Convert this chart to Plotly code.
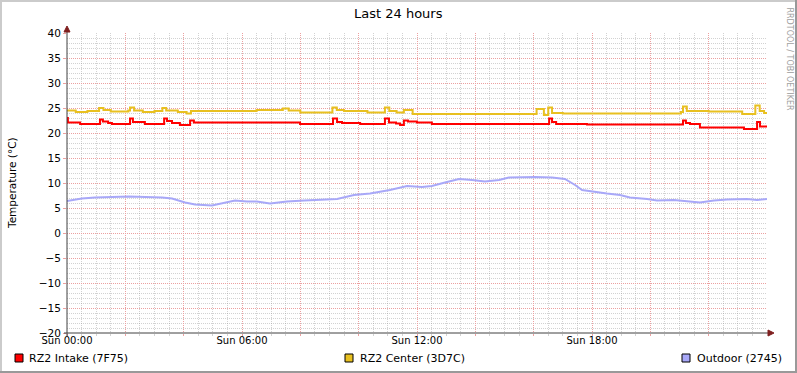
import plotly.graph_objects as go

# ---- data (hours since Sun 00:00, temperature in °C) ----
intake_hours = [0.0, 0.03, 0.45, 1.13, 1.23, 1.41, 1.54, 2.16, 2.26, 2.67, 3.33, 3.43, 3.6, 3.87,
                4.22, 4.35, 7.99, 9.12, 9.26, 9.43, 10.05, 10.9, 11.04, 11.28, 11.42, 11.55,
                11.69, 12.0, 12.51, 16.53, 16.63, 16.77, 17.83, 21.12, 21.22, 21.36, 21.7,
                23.21, 23.66, 23.76, 24.0]
intake_vals = [23.0, 22.1, 21.8, 22.7, 22.3, 22.0, 21.8, 22.9, 22.2, 21.8, 22.9, 22.4, 22.0, 21.6,
               22.5, 22.1, 21.8, 22.9, 22.2, 22.0, 21.8, 22.9, 22.1, 21.9, 21.6, 22.5,
               22.3, 22.1, 21.8, 22.9, 22.2, 21.8, 21.7, 22.5, 22.0, 21.8, 21.1,
               20.8, 22.2, 21.3, 21.3]

center_hours = [0.0, 0.3, 0.7, 1.1, 1.25, 1.5, 2.1, 2.16, 2.3, 2.6, 3.0, 3.27, 3.4, 3.8, 4.1,
                4.25, 6.5, 7.4, 7.6, 8.0, 9.1, 9.25, 9.5, 10.3, 10.9, 11.05, 11.3, 11.55,
                11.85, 16.1, 16.35, 16.5, 16.63, 17.0, 21.05, 21.12, 21.25, 22.0, 23.15,
                23.6, 23.75, 23.9, 24.0]
center_vals = [24.5, 24.2, 24.4, 25.0, 24.6, 24.3, 24.5, 25.1, 24.5, 24.2, 24.4, 25.0, 24.5, 24.2, 23.9,
               24.4, 24.6, 24.9, 24.5, 24.1, 25.1, 24.6, 24.4, 24.1, 25.1, 24.4, 24.1, 24.6,
               23.8, 24.8, 23.6, 25.1, 24.0, 23.9, 24.2, 25.3, 24.4, 24.3, 23.8,
               25.5, 24.4, 24.0, 24.0]

outdoor_hours = [0.0, 0.51, 0.96, 2.13, 3.26, 3.6, 4.05, 4.39, 4.97, 5.31, 5.76, 6.17, 6.51, 6.96,
                 7.54, 8.13, 8.67, 9.26, 9.84, 10.39, 11.07, 11.66, 12.17, 12.51, 12.96, 13.44,
                 13.89, 14.33, 14.81, 15.15, 16.05, 16.63, 17.07, 17.42, 17.66, 18.17, 18.51,
                 18.96, 19.3, 19.89, 20.23, 20.81, 21.26, 21.7, 22.18, 22.63, 23.31, 23.66, 24.0]
outdoor_vals = [6.4, 6.9, 7.1, 7.3, 7.1, 6.9, 6.1, 5.7, 5.5, 5.9, 6.5, 6.3, 6.3, 5.9,
                6.3, 6.5, 6.7, 6.8, 7.6, 7.9, 8.6, 9.4, 9.2, 9.4, 10.1, 10.8,
                10.6, 10.3, 10.6, 11.1, 11.2, 11.1, 10.8, 9.6, 8.6, 8.1, 7.9,
                7.6, 7.1, 6.8, 6.5, 6.6, 6.3, 6.1, 6.5, 6.7, 6.8, 6.6, 6.8]

series_names = ["RZ2 Intake (7F75)", "RZ2 Center (3D7C)", "Outdoor (2745)"]
series_colors = ["#FF0000", "#E8C020", "#A8A8F8"]

x_label_vals = [0, 6, 12, 18]
x_label_text = ["Sun 00:00", "Sun 06:00", "Sun 12:00", "Sun 18:00"]
x_major_vals = [0, 2, 4, 6, 8, 10, 12, 14, 16, 18, 20, 22]
x_minor_vals = [h / 2 for h in range(0, 48) if h % 4 != 0]
y_minor_vals = [v for v in range(-20, 41) if v % 5 != 0]

# ---- layout geometry ----
W, H = 797, 373
L, R, T, B = 67, 30, 33, 40
PW, PH = W - L - R, H - T - B


def px(x):
    return (x - L) / PW


def py(y):
    return (H - B - y) / PH


FONT = "DejaVu Sans"
MGRID = "rgb(236,160,160)"
GRID = "rgba(143,143,143,0.4)"
AXIS = "#404040"
ARROW = "#7F1F1F"

fig = go.Figure()
fig.add_trace(go.Scatter(x=outdoor_hours, y=outdoor_vals, mode="lines", name=series_names[2],
                         line=dict(color=series_colors[2], width=2)))
fig.add_trace(go.Scatter(x=center_hours, y=center_vals, mode="lines", name=series_names[1],
                         line=dict(color=series_colors[1], width=2, shape="hv")))
fig.add_trace(go.Scatter(x=intake_hours, y=intake_vals, mode="lines", name=series_names[0],
                         line=dict(color=series_colors[0], width=2, shape="hv")))

fig.update_layout(
    width=W, height=H,
    margin=dict(l=L, r=R, t=T, b=B, autoexpand=False),
    paper_bgcolor="white", plot_bgcolor="white",
    showlegend=False,
    font=dict(family=FONT, size=10, color="black"),
)
# primary x axis: labels + gray 30-minute grid
fig.update_xaxes(range=[0, 24], tickvals=x_label_vals, ticktext=x_label_text,
                 showgrid=False, ticks="", 
                 minor=dict(tickmode="array", tickvals=x_minor_vals, showgrid=True, gridcolor=GRID,
                            griddash="1px,1px", ticks="outside", ticklen=2, tickcolor=GRID),
                 zeroline=False, showline=False, tickfont=dict(size=10), fixedrange=True,
                 automargin=False)
# overlay x axis: pink 2-hour grid
fig.update_layout(xaxis2=dict(overlaying="x", matches="x", range=[0, 24], tickvals=x_major_vals,
                              showticklabels=False, showgrid=True, gridcolor=MGRID,
                              griddash="1px,1px", gridwidth=1, ticks="outside", ticklen=2,
                              tickcolor=MGRID, side="bottom", zeroline=False, showline=False,
                              fixedrange=True, automargin=False))
fig.add_trace(go.Scatter(x=[0, 24], y=[None, None], xaxis="x2", mode="lines", showlegend=False,
                         hoverinfo="skip"))
fig.update_yaxes(range=[-20, 40], dtick=5, tick0=0,
                 showgrid=True, gridcolor=MGRID, griddash="1px,1px", gridwidth=1,
                 ticks="outside", ticklen=3, tickcolor=MGRID,
                 minor=dict(tickmode="array", tickvals=y_minor_vals, showgrid=True, gridcolor=GRID,
                            griddash="1px,1px"),
                 zeroline=False, showline=False, tickfont=dict(size=10.5),
                 fixedrange=True, automargin=False)

shapes = []
# axes lines with arrows
shapes.append(dict(type="line", xref="paper", yref="paper", x0=px(64), x1=px(770), y0=py(333), y1=py(333),
                   line=dict(color=AXIS, width=1)))
shapes.append(dict(type="line", xref="paper", yref="paper", x0=px(67), x1=px(67), y0=py(336), y1=py(30),
                   line=dict(color=AXIS, width=1)))
shapes.append(dict(type="path", xref="paper", yref="paper",
                   path=f"M {px(768)} {py(330)} L {px(774)} {py(333)} L {px(768)} {py(336)} Z",
                   fillcolor=ARROW, line=dict(color=ARROW, width=1)))
shapes.append(dict(type="path", xref="paper", yref="paper",
                   path=f"M {px(64)} {py(32)} L {px(67)} {py(26)} L {px(70)} {py(32)} Z",
                   fillcolor=ARROW, line=dict(color=ARROW, width=1)))
# frame (3D shading)
shapes.append(dict(type="rect", xref="paper", yref="paper", x0=px(0), x1=px(W), y0=py(0), y1=py(2),
                   fillcolor="#CBCBCB", line=dict(width=0), layer="above"))
shapes.append(dict(type="rect", xref="paper", yref="paper", x0=px(0), x1=px(2), y0=py(0), y1=py(H),
                   fillcolor="#CBCBCB", line=dict(width=0), layer="above"))
shapes.append(dict(type="rect", xref="paper", yref="paper", x0=px(W - 2), x1=px(W), y0=py(0), y1=py(H),
                   fillcolor="#999999", line=dict(width=0), layer="above"))
shapes.append(dict(type="rect", xref="paper", yref="paper", x0=px(0), x1=px(W), y0=py(H - 2), y1=py(H),
                   fillcolor="#999999", line=dict(width=0), layer="above"))

annotations = []
annotations.append(dict(text="Last 24 hours", xref="paper", yref="paper", x=px(398), y=py(13),
                        xanchor="center", yanchor="middle", showarrow=False,
                        font=dict(family=FONT, size=13, color="black")))
annotations.append(dict(text="Temperature (°C)", xref="paper", yref="paper", x=px(12), y=py(183),
                        xanchor="center", yanchor="middle", textangle=-90, showarrow=False,
                        font=dict(family=FONT, size=10.5, color="black")))
legend_pos = [(15, 27), (345, 358), (682, 695)]
for (sx, tx), name, col in zip(legend_pos, series_names, series_colors):
    shapes.append(dict(type="rect", xref="paper", yref="paper", x0=px(sx), x1=px(sx + 8),
                       y0=py(362), y1=py(354), fillcolor=col, line=dict(color="black", width=1)))
    annotations.append(dict(text=name, xref="paper", yref="paper", x=px(tx), y=py(358),
                            xanchor="left", yanchor="middle", showarrow=False,
                            font=dict(family=FONT, size=11, color="black")))

annotations.append(dict(text="RRDTOOL / TOBI OETIKER", xref="paper", yref="paper", x=px(789), y=py(5),
                        xanchor="center", yanchor="top", textangle=90, showarrow=False,
                        font=dict(family=FONT, size=8, color="#A0A0A0")))

fig.update_layout(shapes=shapes, annotations=annotations)
fig.write_html("out.html", config={"displayModeBar": False},
               post_script="document.body.style.margin='0';document.body.style.overflow='hidden';")
